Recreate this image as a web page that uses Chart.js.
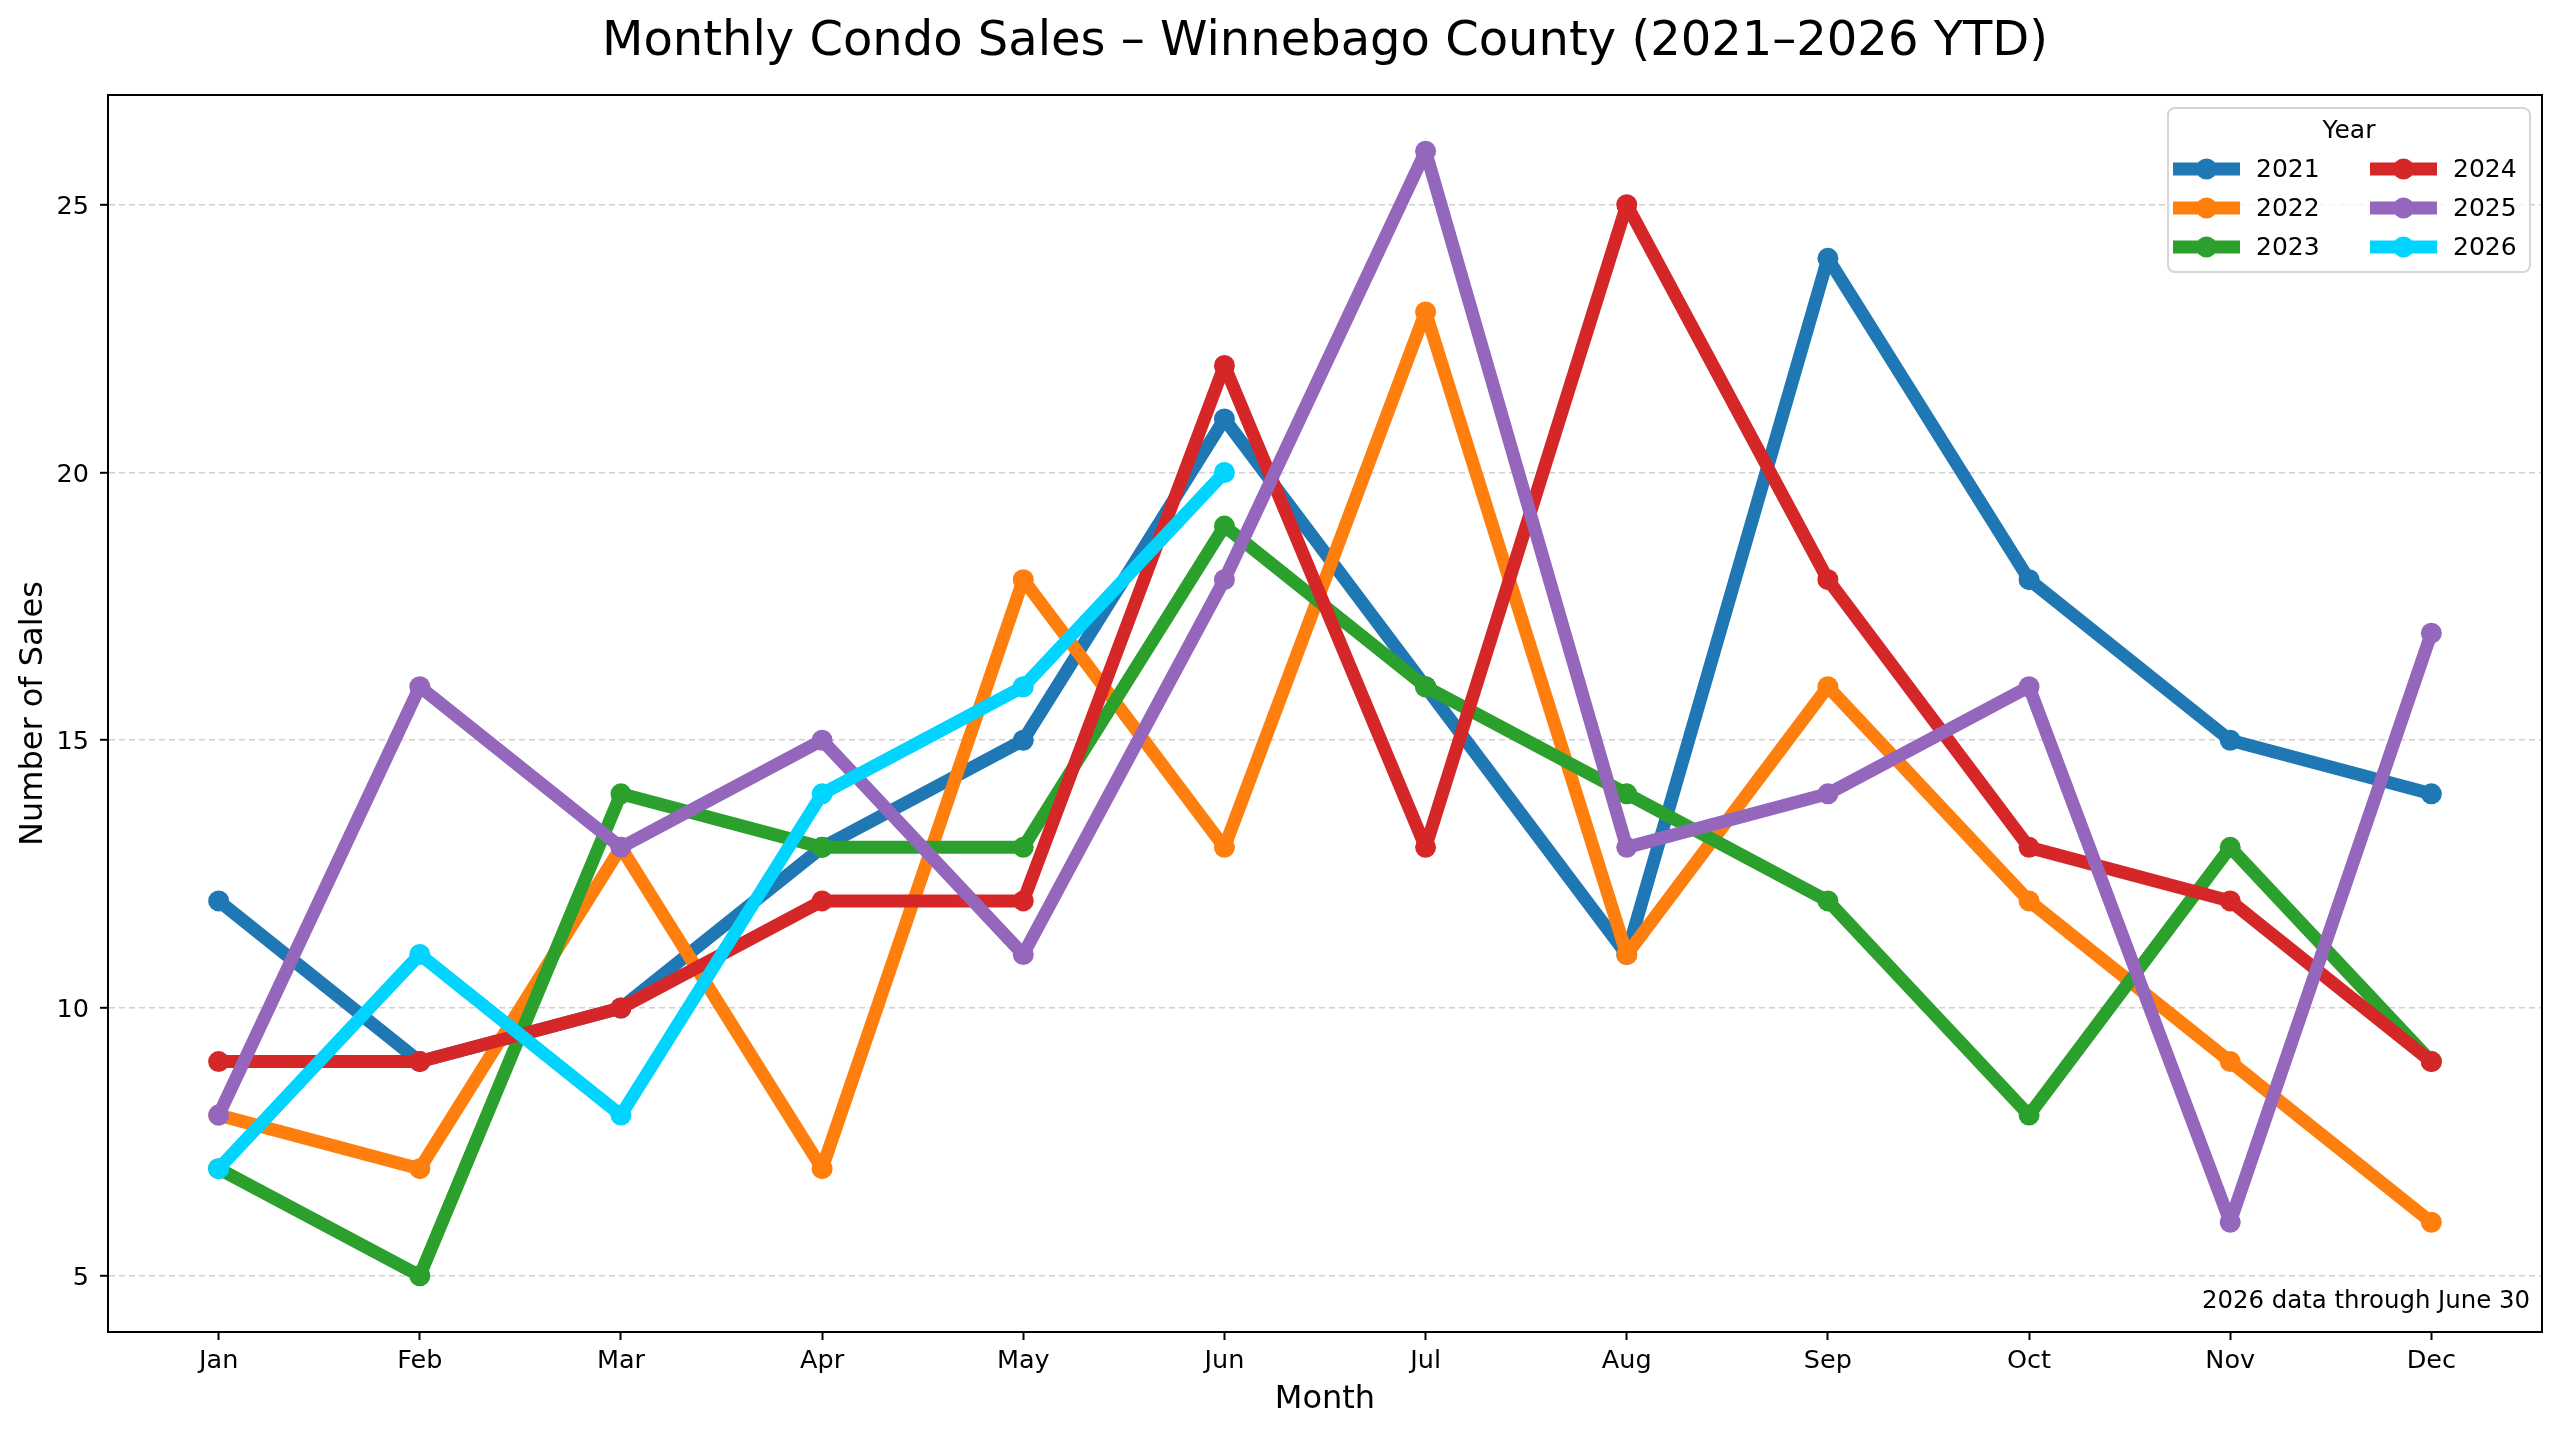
<!DOCTYPE html>
<html>
<head>
<meta charset="utf-8">
<script src="https://cdn.jsdelivr.net/npm/chart.js@4"></script>
<style>
  html, body { margin: 0; padding: 0; background: #fff; }
  #wrap { width: 2560px; height: 1431px; }
</style>
</head>
<body>
<div id="wrap"><canvas id="salesChart" width="2560" height="1431"></canvas></div>
<script>
const months = ['Jan','Feb','Mar','Apr','May','Jun','Jul','Aug','Sep','Oct','Nov','Dec'];
const years = ['2021','2022','2023','2024','2025','2026'];
const yTicks = [5, 10, 15, 20, 25];

const sales2021 = [12, 9, 10, 13, 15, 21, 16, 11, 24, 18, 15, 14];
const sales2022 = [8, 7, 13, 7, 18, 13, 23, 11, 16, 12, 9, 6];
const sales2023 = [7, 5, 14, 13, 13, 19, 16, 14, 12, 8, 13, 9];
const sales2024 = [9, 9, 10, 12, 12, 22, 13, 25, 18, 13, 12, 9];
const sales2025 = [8, 16, 13, 15, 11, 18, 26, 13, 14, 16, 6, 17];
const sales2026 = [7, 11, 8, 14, 16, 20];

const colors = ['#1f77b4', '#ff7f0e', '#2ca02c', '#d62728', '#9467bd', '#00d4ff'];
const allSales = [sales2021, sales2022, sales2023, sales2024, sales2025, sales2026];

const FONT = "'DejaVu Sans', sans-serif";

/* text, tick labels and legend drawn on top of the plot, matplotlib style */
const decor = {
    id: 'decor',
    afterDatasetsDraw(chart) {
        const ctx = chart.ctx;
        const a = chart.chartArea;
        const xs = chart.scales.x;
        const ys = chart.scales.y;
        ctx.save();

        // frame round the axes
        ctx.strokeStyle = '#000';
        ctx.lineWidth = 2;
        ctx.strokeRect(a.left, a.top, a.right - a.left, a.bottom - a.top);

        // tick labels
        ctx.fillStyle = '#000';
        ctx.textBaseline = 'alphabetic';
        ctx.font = '25.5px ' + FONT;
        ctx.textAlign = 'center';
        months.forEach((m, i) => {
            ctx.fillText(m, xs.getPixelForValue(i), 1368);
        });
        ctx.textAlign = 'right';
        yTicks.forEach(v => {
            ctx.fillText(String(v), 89, ys.getPixelForValue(v) + 9);
        });

        // title
        ctx.textAlign = 'center';
        ctx.font = '48px ' + FONT;
        ctx.fillText('Monthly Condo Sales \u2013 Winnebago County (2021\u20132026 YTD)', (a.left + a.right) / 2, 55);

        // axis titles
        ctx.font = '32px ' + FONT;
        ctx.fillText('Month', (a.left + a.right) / 2, 1408);
        ctx.save();
        ctx.translate(42, (a.top + a.bottom) / 2);
        ctx.rotate(-Math.PI / 2);
        ctx.fillText('Number of Sales', 0, 0);
        ctx.restore();

        // note
        ctx.font = '24.4px ' + FONT;
        ctx.textAlign = 'right';
        ctx.fillText('2026 data through June 30', a.right - 12, a.bottom - 24);

        // legend
        const bx = 2168, by = 108, bw = 362, bh = 164;
        ctx.beginPath();
        ctx.roundRect(bx, by, bw, bh, 7);
        ctx.fillStyle = 'rgba(255,255,255,0.8)';
        ctx.fill();
        ctx.strokeStyle = '#d6d6d6';
        ctx.lineWidth = 2;
        ctx.stroke();

        ctx.fillStyle = '#000';
        ctx.textAlign = 'center';
        ctx.textBaseline = 'middle';
        ctx.font = '25px ' + FONT;
        ctx.fillText('Year', bx + bw / 2, 131);

        const rows = [169, 208, 247];
        const cols = [2173, 2370];
        years.forEach((yr, i) => {
            const cx = cols[Math.floor(i / 3)];
            const cy = rows[i % 3];
            ctx.strokeStyle = colors[i];
            ctx.lineWidth = 13;
            ctx.lineCap = 'butt';
            ctx.beginPath();
            ctx.moveTo(cx, cy);
            ctx.lineTo(cx + 67, cy);
            ctx.stroke();
            ctx.fillStyle = colors[i];
            ctx.beginPath();
            ctx.arc(cx + 33.5, cy, 10.5, 0, Math.PI * 2);
            ctx.fill();
            ctx.fillStyle = '#000';
            ctx.textAlign = 'left';
            ctx.fillText(yr, cx + 83, cy + 1);
        });

        ctx.restore();
    }
};

const datasets = years.map((yr, i) => ({
    label: yr,
    data: allSales[i].map((v, m) => ({ x: m, y: v })),
    borderColor: colors[i],
    backgroundColor: colors[i],
    pointBackgroundColor: colors[i],
    borderWidth: 13,
    borderJoinStyle: 'round',
    borderCapStyle: 'round',
    pointRadius: 10.5,
    pointBorderWidth: 0,
    pointHoverRadius: 10.5,
    tension: 0,
    order: years.length - i
}));

const ctx = document.getElementById('salesChart').getContext('2d');

new Chart(ctx, {
    type: 'line',
    data: { datasets },
    options: {
        responsive: false,
        animation: false,
        devicePixelRatio: 1,
        layout: { padding: { top: 95, right: 18, left: 0, bottom: 0 } },
        plugins: {
            legend: { display: false },
            tooltip: { enabled: false },
            title: { display: false }
        },
        scales: {
            x: {
                type: 'linear',
                min: -0.55,
                max: 11.55,
                afterBuildTicks: s => { s.ticks = months.map((m, i) => ({ value: i })); },
                afterFit: s => { s.height = 99; },
                ticks: { display: false },
                grid: {
                    drawOnChartArea: false,
                    drawTicks: true,
                    tickLength: 8,
                    tickColor: '#000',
                    tickWidth: 2
                },
                border: { display: true, color: '#000', width: 2 }
            },
            y: {
                min: 3.95,
                max: 27.05,
                afterBuildTicks: s => { s.ticks = yTicks.map(v => ({ value: v })); },
                afterFit: s => { s.width = 108; },
                ticks: { display: false },
                grid: {
                    color: 'rgba(176,176,176,0.6)',
                    lineWidth: 1.6,
                    drawTicks: true,
                    tickLength: 8,
                    tickColor: '#000',
                    tickWidth: 2
                },
                border: { display: true, color: '#000', width: 2, dash: [6, 4] }
            }
        }
    },
    plugins: [decor]
});
</script>
</body>
</html>
